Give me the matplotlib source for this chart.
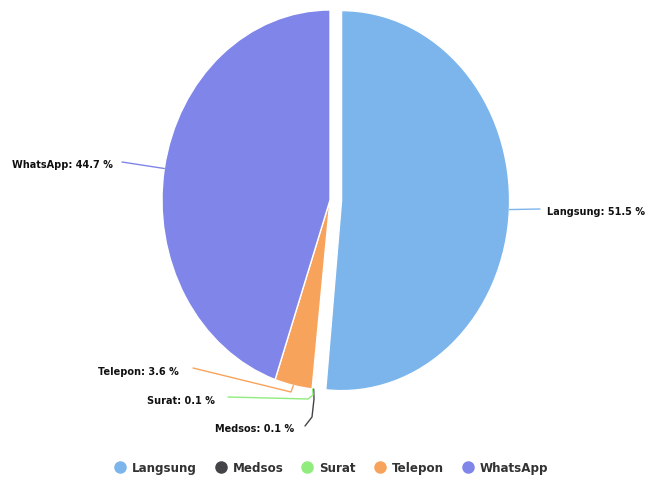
import matplotlib
matplotlib.use('Agg')
import matplotlib.pyplot as plt
from matplotlib.lines import Line2D
import numpy as np

# data
labels = ['Langsung', 'Medsos', 'Surat', 'Telepon', 'WhatsApp']
values = [51.5, 0.1, 0.1, 3.6, 44.7]
colors = ['#7cb5ec', '#434348', '#90ed7d', '#f7a35c', '#8085e9']
explode = [0.069, 0, 0, 0, 0]  # Langsung is sliced out

W, H = 648, 481
cx, cy = 330, 201      # pie centre in pixels (from top-left)
rx, ry = 168, 190      # pie is a bit squeezed horizontally

fig = plt.figure(figsize=(W / 100, H / 100), dpi=100)
ax = fig.add_axes([0, 0, 1, 1])

ax.pie(values, colors=colors, explode=explode, startangle=90,
       counterclock=False, radius=1,
       wedgeprops=dict(edgecolor='white', linewidth=1))
ax.set_aspect('auto')
ax.set_xlim(-cx / rx, (W - cx) / rx)
ax.set_ylim(-(H - cy) / ry, cy / ry)
ax.axis('off')

def px(x, y):
    # pixel coords -> data coords
    return (x - cx) / rx, (cy - y) / ry

# slice mid angles (clockwise from top) -> point on rim
frac = np.array(values) / sum(values)
mid = (np.cumsum(frac) - frac / 2) * 2 * np.pi
rim = [(np.sin(a) + e * np.sin(a), np.cos(a) + e * np.cos(a)) for a, e in zip(mid, explode)]

# label anchors (pixels), alignment, connector path (pixels, None = straight)
lab_pos = {
    'Langsung': (547, 212, 'left', None),
    'Medsos':   (294, 429, 'right', [(305, 427), (312, 418), (314, 400)]),
    'Surat':    (215, 401, 'right', [(228, 398), (308, 400), (313, 396)]),
    'Telepon':  (179, 372, 'right', [(193, 369), (291, 393)]),
    'WhatsApp': (113, 165, 'right', None),
}

for i, name in enumerate(labels):
    x, y, ha, path = lab_pos[name]
    tx, ty = px(x, y)
    ax.text(tx, ty, f'{name}: {values[i]} %', ha=ha, va='center',
            fontsize=7.0, fontweight='bold', color='#111111')
    ex, ey = rim[i]
    if path is None:
        start = px(x + 9, y - 2) if ha == 'right' else px(x - 7, y - 2)
        xs, ys = [start[0], ex], [start[1], ey]
    else:
        pts = [px(*p) for p in path]
        xs = [p[0] for p in pts] + [ex]
        ys = [p[1] for p in pts] + [ey]
    ax.plot(xs, ys, color=colors[i], lw=1, solid_capstyle='round')

handles = [Line2D([], [], marker='o', ls='', markersize=8,
                  markerfacecolor=c, markeredgecolor=c) for c in colors]
leg = fig.legend(handles, labels, loc='center', bbox_to_anchor=(331 / W, 1 - 469 / H),
                 ncol=5, frameon=False, handletextpad=0.5, columnspacing=1.5,
                 handlelength=1.0, prop=dict(size=8.6, weight='bold'))
for t in leg.get_texts():
    t.set_color('#333333')

fig.savefig('out.png', dpi=100)
